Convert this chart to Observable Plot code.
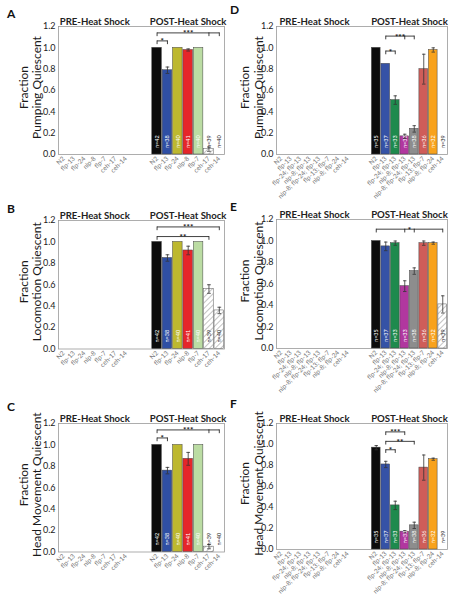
<!DOCTYPE html>
<html><head><meta charset="utf-8">
<script src="https://cdn.jsdelivr.net/npm/d3@7"></script>
<script src="https://cdn.jsdelivr.net/npm/@observablehq/plot@0.6"></script>
<style>
body{margin:0;background:#fff;}
#fig{position:relative;width:457px;height:614px;background:#fff;font-family:Lato,"Liberation Sans",sans-serif;overflow:hidden;}
.panel{position:absolute;}
.letter{position:absolute;font-weight:bold;font-size:12px;line-height:12px;color:#111;font-family:Lato,"Liberation Sans",sans-serif;}
</style></head><body>
<div id="fig">
<svg width="0" height="0" style="position:absolute;left:0;top:0">
  <defs>
    <pattern id="hatch" patternUnits="userSpaceOnUse" width="4" height="4" patternTransform="rotate(45)">
      <rect width="4" height="4" fill="white"></rect>
      <line x1="0" y1="0" x2="0" y2="4" stroke="#6a6a6a" stroke-width="0.8"></line>
    </pattern>
  </defs>
</svg>
</div>
<script>
// ---------- data ----------
const leftStrains = ["N2", "flp-13", "flp-24", "nlp-8", "flp-7", "ceh-17", "ceh-14"];
const rightStrains = ["N2", "flp-13", "flp-24; flp-13", "nlp-8; flp-13", "nlp-8; flp-24; flp-13", "flp-13; flp-7", "nlp-8; flp-24", "ceh-14"];

const pumpingA = [1.00, 0.79, 1.00, 0.98, 1.00, 0.05, 0.00];
const pumpingAErr = [0, 0.03, 0, 0.01, 0, 0.02, 0];
const locomotionB = [1.00, 0.85, 1.00, 0.92, 1.00, 0.56, 0.36];
const locomotionBErr = [0, 0.03, 0, 0.04, 0, 0.04, 0.03];
const headC = [1.00, 0.76, 1.00, 0.87, 1.00, 0.05, 0.00];
const headCErr = [0, 0.03, 0, 0.06, 0, 0.02, 0];
const nLeft = [42, 38, 40, 41, 40, 39, 40];

const pumpingD = [1.00, 0.85, 0.51, 0.17, 0.24, 0.80, 0.98, 0.00];
const pumpingDErr = [0, 0, 0.04, 0.02, 0.03, 0.14, 0.02, 0];
const locomotionE = [1.00, 0.95, 0.98, 0.58, 0.72, 0.98, 0.98, 0.41];
const locomotionEErr = [0, 0.04, 0.02, 0.05, 0.03, 0.02, 0.01, 0.08];
const headF = [0.97, 0.81, 0.42, 0.17, 0.23, 0.78, 0.86, 0.00];
const headFErr = [0.02, 0.03, 0.04, 0.01, 0.03, 0.12, 0.01, 0];
const nRight = [35, 37, 33, 33, 38, 36, 32, 39];

const yTicks = [0, 0.2, 0.4, 0.6, 0.8, 1.0, 1.2];

// significance brackets: [fromIndex, toIndex, level, label, middle drop indices]
const bracketsA = [[0, 1, 1.065, "*", []], [0, 6, 1.14, "***", [5]]];
const bracketsB = [[0, 6, 1.14, "***", []], [0, 5, 1.05, "**", []]];
const bracketsC = [[0, 1, 1.065, "*", []], [0, 6, 1.14, "***", [5]]];
const bracketsD = [[1, 2, 0.97, "*", []], [1, 4, 1.11, "***", [3]]];
const bracketsE = [[0, 7, 1.11, "*", [3, 4]]];
const bracketsF = [[1, 3, 1.12, "***", []], [1, 4, 1.03, "**", []], [1, 2, 0.95, "*", []]];

// ---------- styles ----------
const leftColors = ["#0c0c0c", "#2f4fa4", "#bdb82f", "#e5262a", "#bbdca3", "hatch", "hatch"];
const rightColors = ["#0c0c0c", "#3552a6", "#1e8a4d", "#b1379f", "#8d8d8d", "#cf5d59", "#f8a21c", "hatch"];

const panels = [
  {id: "A", strains: leftStrains, values: pumpingA, errs: pumpingAErr, ns: nLeft, colors: leftColors, brackets: bracketsA,
   ylabel: "Fraction\nPumping Quiescent", left: 0, top: 0, width: 228, height: 195, mt: 26, mb: 41, ml: 58, mr: 4, ldx: -28.5,
   letter: [7, 8]},
  {id: "B", strains: leftStrains, values: locomotionB, errs: locomotionBErr, ns: nLeft, colors: leftColors, brackets: bracketsB,
   ylabel: "Fraction\nLocomotion Quiescent", left: 0, top: 195, width: 228, height: 200, mt: 25, mb: 46.5, ml: 58, mr: 4, ldx: -28.5,
   letter: [7, 203]},
  {id: "C", strains: leftStrains, values: headC, errs: headCErr, ns: nLeft, colors: leftColors, brackets: bracketsC,
   ylabel: "Fraction\nHead Movement Quiescent", left: 0, top: 395, width: 228, height: 219, mt: 28, mb: 62.5, ml: 58, mr: 4, ldx: -28.5,
   letter: [7, 401]},
  {id: "D", strains: rightStrains, values: pumpingD, errs: pumpingDErr, ns: nRight, colors: rightColors, brackets: bracketsD,
   ylabel: "Fraction\nPumping Quiescent", left: 228, top: 0, width: 229, height: 195, mt: 26, mb: 41, ml: 48, mr: 10, ldx: -25,
   letter: [230, 4]},
  {id: "E", strains: rightStrains, values: locomotionE, errs: locomotionEErr, ns: nRight, colors: rightColors, brackets: bracketsE,
   ylabel: "Fraction\nLocomotion Quiescent", left: 228, top: 195, width: 229, height: 200, mt: 24, mb: 47, ml: 48, mr: 10, ldx: -25,
   letter: [230, 201]},
  {id: "F", strains: rightStrains, values: headF, errs: headFErr, ns: nRight, colors: rightColors, brackets: bracketsF,
   ylabel: "Fraction\nHead Movement Quiescent", left: 228, top: 395, width: 229, height: 219, mt: 28, mb: 65, ml: 48, mr: 10, ldx: -25,
   letter: [230, 398]}
];

const fig = document.getElementById("fig");

for (const p of panels) {
  const n = p.strains.length;
  const off = n + 2;
  const total = 2 * n + 2;
  const rows = p.strains.map((s, i) => ({s, i, slot: off + i, v: p.values[i], e: p.errs[i], n: p.ns[i], c: p.colors[i]}));
  const solid = rows.filter(d => d.c !== "hatch");
  const hatched = rows.filter(d => d.c === "hatch" && d.v > 0);
  const errRows = rows.filter(d => d.e > 0);
  const labelMap = new Map();
  p.strains.forEach((s, i) => { labelMap.set(i + 0.5, s); labelMap.set(off + i + 0.5, s); });
  const tickPos = [...labelMap.keys()];

  const bLines = p.brackets.map(([a, b, y, lab]) => ({x1: off + a + 0.5, x2: off + b + 0.5, y, lab}));
  const bDrops = p.brackets.flatMap(([a, b, y, lab, mids]) => [a, b, ...mids].map(k => ({x: off + k + 0.5, y})));

  const chart = Plot.plot({
    width: p.width, height: p.height,
    marginTop: p.mt, marginBottom: p.mb, marginLeft: p.ml, marginRight: p.mr,
    x: {domain: [0, total]},
    y: {domain: [0, 1.2]},
    color: {type: "identity"},
    style: {fontFamily: "Lato, 'Liberation Sans', sans-serif", overflow: "visible", background: "transparent"},
    marks: [
      Plot.frame({stroke: "#9a9a9a", strokeWidth: 0.8}),
      Plot.rectY(solid, {x1: d => d.slot, x2: d => d.slot + 1, y1: () => 0, y2: "v", fill: "c", stroke: "#444", strokeWidth: 0.5, insetLeft: 0.4, insetRight: 0.4}),
      Plot.rectY(hatched, {x1: d => d.slot, x2: d => d.slot + 1, y1: () => 0, y2: "v", fill: "white", stroke: "#555", strokeWidth: 0.5, insetLeft: 0.4, insetRight: 0.4, className: "hatched"}),
      Plot.ruleX(errRows, {x: d => d.slot + 0.5, y1: d => d.v - d.e, y2: d => d.v + d.e, stroke: "#333", strokeWidth: 0.8}),
      Plot.link(errRows, {x1: d => d.slot + 0.32, x2: d => d.slot + 0.68, y1: d => d.v + d.e, y2: d => d.v + d.e, stroke: "#333", strokeWidth: 0.8}),
      Plot.link(errRows, {x1: d => d.slot + 0.32, x2: d => d.slot + 0.68, y1: d => d.v - d.e, y2: d => d.v - d.e, stroke: "#333", strokeWidth: 0.8}),
      Plot.text(rows, {x: d => d.slot + 0.5, y: () => 0.12, text: d => "n=" + d.n, rotate: -90, fontSize: 5.5,
        fill: d => d.c === "hatch" ? "#222" : "white", textAnchor: "middle", lineAnchor: "middle"}),
      Plot.link(bLines, {x1: "x1", x2: "x2", y1: "y", y2: "y", stroke: "#111", strokeWidth: 0.8}),
      Plot.ruleX(bDrops, {x: "x", y1: d => d.y - 0.035, y2: "y", stroke: "#111", strokeWidth: 0.8}),
      Plot.text(bLines, {x: d => (d.x1 + d.x2) / 2, y: "y", text: "lab", fontSize: 8, fontWeight: "bold", lineAnchor: "bottom", dy: 3.5, fill: "#111"}),
      Plot.text(["PRE-Heat Shock"], {text: d => d, x: () => n / 2, frameAnchor: "top", lineAnchor: "bottom", dy: -1.5, fontSize: 9.6, fontWeight: "bold", fill: "#222"}),
      Plot.text(["POST-Heat Shock"], {text: d => d, x: () => off + n / 2, frameAnchor: "top", lineAnchor: "bottom", dy: -1.5, fontSize: 9.6, fontWeight: "bold", fill: "#222"}),
      Plot.text([p.ylabel], {text: d => d, frameAnchor: "left", dx: p.ldx, dy: -3, rotate: -90, fontSize: 12, lineHeight: 1.15, textAnchor: "middle", lineAnchor: "middle", fill: "#1a1a1a"}),
      Plot.axisY({ticks: yTicks, tickFormat: d3.format(".1f"), tickSize: 0, tickPadding: 3, fontSize: 9, label: null, color: "#222"}),
      Plot.axisX({ticks: tickPos, tickFormat: d => labelMap.get(d), tickRotate: -45, tickSize: 0, tickPadding: 3, fontSize: 6.5, label: null, color: "#777"})
    ]
  });
  d3.select(chart).selectAll(".hatched rect").attr("fill", "url(#hatch)");
  const div = document.createElement("div");
  div.className = "panel";
  div.style.left = p.left + "px";
  div.style.top = p.top + "px";
  div.style.width = p.width + "px";
  div.style.height = p.height + "px";
  div.appendChild(chart);
  fig.appendChild(div);

  const L = document.createElement("div");
  L.className = "letter";
  L.textContent = p.id;
  L.style.left = p.letter[0] + "px";
  L.style.top = p.letter[1] + "px";
  fig.appendChild(L);
}
</script>
</body></html>
